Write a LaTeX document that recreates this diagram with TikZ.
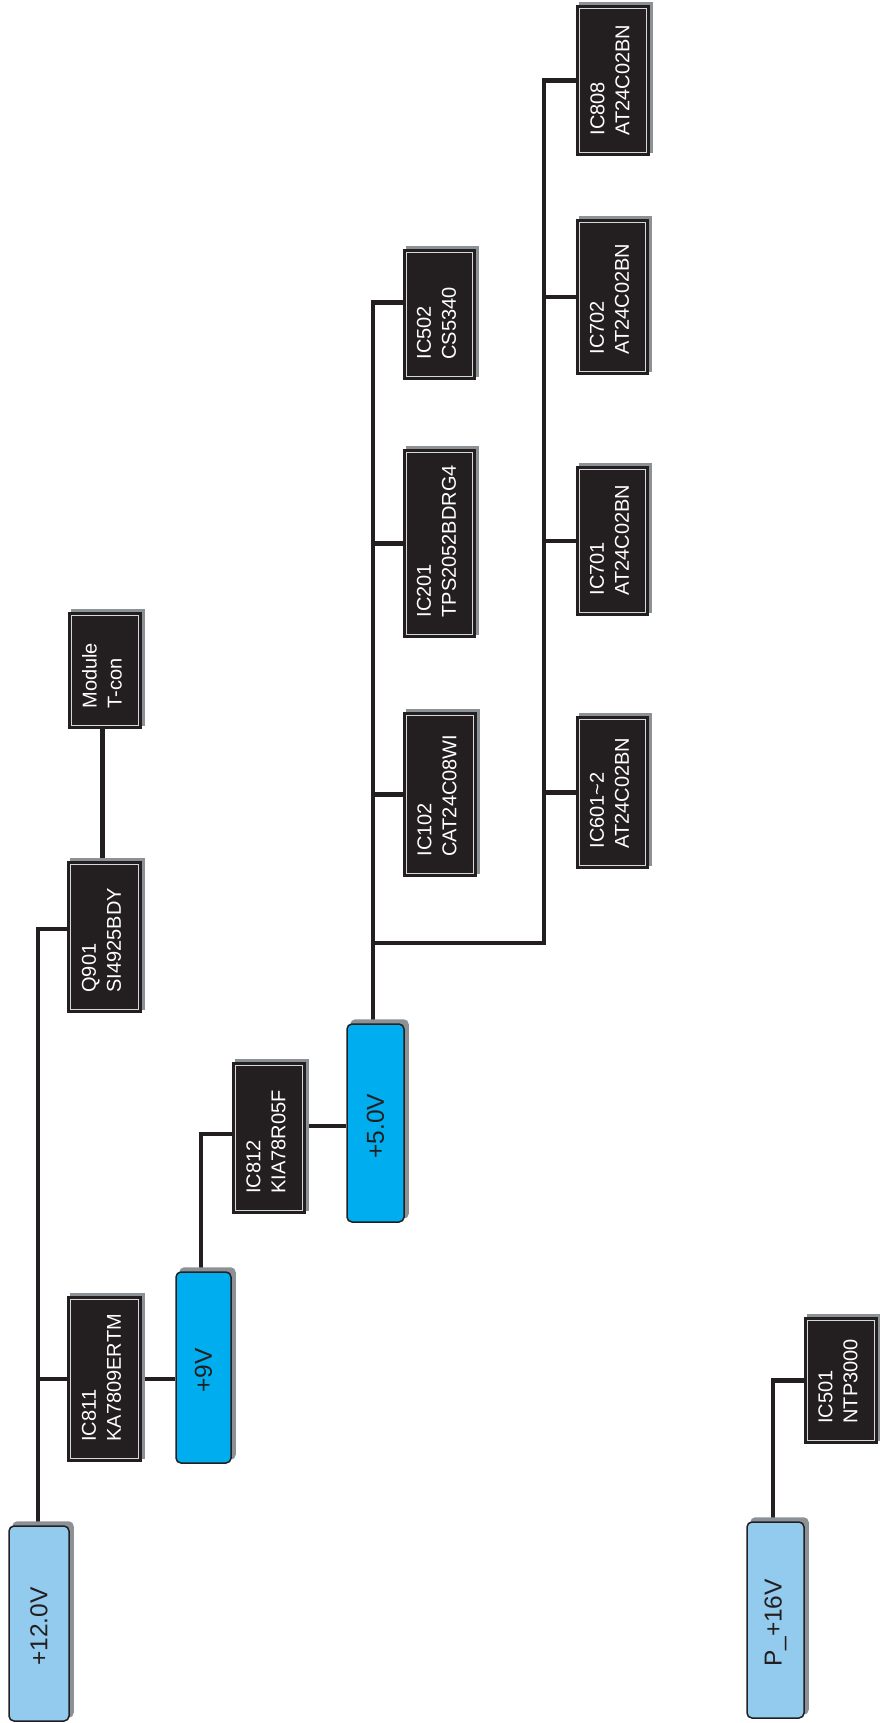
\documentclass[tikz,border=0pt]{standalone}
\usepackage{fontspec}
\setmainfont{Liberation Sans}
\definecolor{boxblack}{HTML}{231F20}
\definecolor{lightblue}{HTML}{92CBEE}
\definecolor{cyanbox}{HTML}{00AEEF}
\definecolor{shgray}{HTML}{8C9196}
\definecolor{innerline}{HTML}{D8D8D8}
\pgfdeclarelayer{bg}
\pgfdeclarelayer{sh}
\pgfsetlayers{bg,sh,main}
\newcommand\icb[7]{%
  \node[icbox, minimum width={(#4-#2)*1pt}, minimum height={(#5-#3)*1pt}] (#1) at ({(#2+#4)/2},{(#3+#5)/2}) {};
  \draw[innerline, line width=0.6pt] ([shift={(3pt,3pt)}]#1.south west) rectangle ([shift={(-3pt,-3pt)}]#1.north east);
  \begin{pgfonlayer}{sh}
    \fill[shgray] ([shift={(3pt,3pt)}]#1.south west) rectangle ([shift={(3pt,3pt)}]#1.north east);
  \end{pgfonlayer}
  \node[iclabel] (#1t) at ([xshift=-3pt,yshift=20pt]#1.south) {#6\\#7};
}
\newcommand\vb[7]{%
  \node[vbox, fill=#6, minimum width={(#4-#2)*1pt}, minimum height={(#5-#3)*1pt}] (#1) at ({(#2+#4)/2},{(#3+#5)/2}) {};
  \begin{pgfonlayer}{sh}
    \fill[shgray, rounded corners=5pt] ([shift={(4pt,4pt)}]#1.south west) rectangle ([shift={(4pt,4pt)}]#1.north east);
  \end{pgfonlayer}
  \node[vlabel] (#1t) at ([yshift=-3pt]#1.center) {#7};
}
\begin{document}
\begin{tikzpicture}[x=1pt,y=-1pt,
  icbox/.style={draw=boxblack, line width=1.5pt, fill=boxblack, inner sep=0pt},
  iclabel/.style={text=white, font=\fontsize{20}{25}\selectfont, align=left, rotate=90, anchor=west, inner sep=0pt},
  vbox/.style={draw=boxblack, line width=1.5pt, rounded corners=5pt, inner sep=0pt},
  vlabel/.style={font=\fontsize{24.5}{29}\selectfont, rotate=90, text=boxblack, inner sep=0pt},
  wire/.style={draw=boxblack, line width=4.3pt, line join=miter}
]
\useasboundingbox (0,0) rectangle (879,1723);

% voltage boxes
\vb{v12}{9}{1526}{69}{1721}{lightblue}{+12.0V}
\vb{v9}{176}{1272}{231}{1463}{cyanbox}{+9V}
\vb{v5}{347}{1024}{404}{1222}{cyanbox}{+5.0V}
\vb{p16}{747}{1522}{804}{1718}{lightblue}{P\_+16V}

% IC boxes
\icb{ic811}{68}{1297}{141}{1461}{IC811}{KA7809ERTM}
\icb{q901}{68}{862}{141}{1012}{Q901}{SI4925BDY}
\icb{module}{69}{613}{141}{728}{Module}{T-con}
\icb{ic812}{233}{1063}{305}{1213}{IC812}{KIA78R05F}
\icb{ic502}{404}{250}{475}{379}{IC502}{CS5340}
\icb{ic201}{404}{450}{475}{637}{IC201}{TPS2052BDRG4}
\icb{ic102}{404}{713}{476}{876}{IC102}{CAT24C08WI}
\icb{ic601}{577}{717}{648}{868}{IC601\textasciitilde 2}{AT24C02BN}
\icb{ic701}{577}{467}{648}{615}{IC701}{AT24C02BN}
\icb{ic702}{577}{220}{648}{374}{IC702}{AT24C02BN}
\icb{ic808}{577}{6}{649}{155}{IC808}{AT24C02BN}
\icb{ic501}{805}{1318}{877}{1443}{IC501}{NTP3000}

\coordinate (t12) at ([xshift=-1pt]v12.north);
\coordinate (trunk) at ([xshift=-2.5pt]v5.north);
\coordinate (j1) at (373,943);
\coordinate (j2) at ([xshift=-32pt]ic808.west);

\begin{pgfonlayer}{bg}
  \draw[wire] (t12) |- ([yshift=8pt]q901.west);
  \draw[wire] (t12 |- ic811.west) -- (ic811.west);
  \draw[wire] ([xshift=-2pt]q901.north) -- ([xshift=-2pt]q901.north |- module.south);
  \draw[wire] (ic811.east) -- (ic811.east -| v9.west);
  \draw[wire] ([xshift=-2.5pt]v9.north) |- ([yshift=4pt]ic812.west);
  \draw[wire] ([yshift=12pt]ic812.east) -- ([yshift=12pt]ic812.east -| v5.west);
  \draw[wire] (trunk) |- ([yshift=12pt]ic502.west);
  \draw[wire] (trunk |- ic201.west) -- (ic201.west);
  \draw[wire] (trunk |- ic102.west) -- (ic102.west);
  \draw[wire] (j1) -| (j2) -- (ic808.west);
  \draw[wire] (j2 |- ic601.west) -- (ic601.west);
  \draw[wire] (j2 |- ic701.west) -- (ic701.west);
  \draw[wire] (j2 |- ic702.west) -- (ic702.west);
  \draw[wire] ([xshift=-2.5pt]p16.north) |- (ic501.west);
\end{pgfonlayer}
\end{tikzpicture}
\end{document}
